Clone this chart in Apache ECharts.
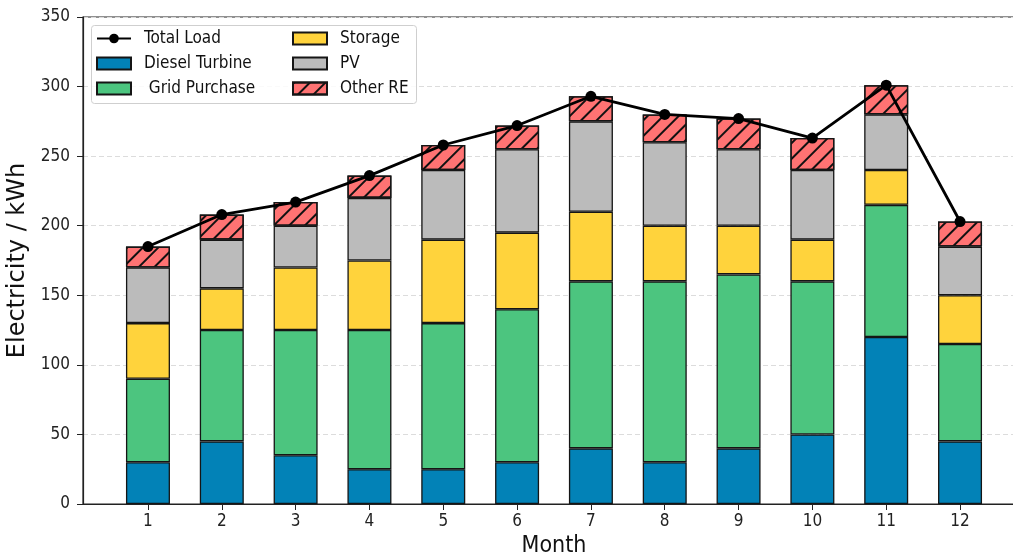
<!DOCTYPE html>
<html>
<head>
<meta charset="utf-8">
<script src="https://cdn.jsdelivr.net/npm/echarts@6/dist/echarts.min.js"></script>
<style>html,body{margin:0;padding:0;background:#fff}#c{width:1013px;height:556px}</style>
</head>
<body>
<div id="c"></div>
<script>
const months = [1,2,3,4,5,6,7,8,9,10,11,12];
const dieselTurbine = [30,45,35,25,25,30,40,30,40,50,120,45];
const gridPurchase  = [60,80,90,100,105,110,120,130,125,110,95,70];
const storage       = [40,30,45,50,60,55,50,40,35,30,25,35];
const pv            = [40,35,30,45,50,60,65,60,55,50,40,35];
const otherRE       = [15,18,17,16,18,17,18,20,22,23,21,18];
const totalLoad     = [185,208,217,236,258,272,293,280,277,263,301,203];
const yTicks = [0,50,100,150,200,250,300,350];

const FONT = '"DejaVu Sans Condensed", "DejaVu Sans", sans-serif';
const FONT_Y = '"DejaVu Sans", sans-serif';
const X_MIN = 0.12, X_MAX = 12.88;
const G_LEFT = 83, G_TOP = 17, G_W = 942, G_H = 487;
const unit = G_W / (X_MAX - X_MIN);
const barGridLeft = G_LEFT + (0.5 - X_MIN) * unit;
const barGridW = months.length * unit;

const chart = echarts.init(document.getElementById('c'), null, {renderer:'canvas'});
const bar = (name, data, color, decal) => ({
  name, type:'bar', stack:'s', data, barWidth: 44, xAxisIndex:1, yAxisIndex:1,
  itemStyle: Object.assign({color, borderColor:'#151515', borderWidth:1.3}, decal ? {decal} : {}),
  emphasis:{disabled:true}, z:2
});
const legendText = {fontSize:17, color:'#111', fontFamily:FONT, padding:[0,0,0,8]};

chart.setOption({
  animation:false,
  textStyle:{fontFamily:FONT},
  grid:[
    {left:G_LEFT, top:G_TOP, width:G_W, height:G_H, show:true, borderColor:'#222', borderWidth:1.2,
     backgroundColor:'transparent', outerBoundsMode:'none', containLabel:false},
    {left:barGridLeft, top:G_TOP, width:barGridW, height:G_H, outerBoundsMode:'none', containLabel:false}
  ],
  xAxis:[{
    type:'value', gridIndex:0, min:X_MIN, max:X_MAX,
    name:'Month', nameLocation:'middle', nameGap:30,
    nameTextStyle:{fontSize:23, color:'#111', fontFamily:FONT},
    axisLine:{show:true, lineStyle:{color:'#222', width:1.2}},
    axisTick:{show:true, customValues: months, length:6, lineStyle:{color:'#222'}},
    axisLabel:{customValues: months, fontSize:17, color:'#222', margin:9, fontFamily:FONT},
    splitLine:{show:false}
  },{
    type:'category', gridIndex:1, data: months, boundaryGap:true,
    axisLine:{show:false}, axisTick:{show:false}, axisLabel:{show:false}, splitLine:{show:false}
  }],
  yAxis:[{
    type:'value', gridIndex:0, min:0, max:350, interval:50,
    name:'Electricity / kWh', nameLocation:'middle', nameGap:46,
    nameTextStyle:{fontSize:24, color:'#111', fontFamily:FONT_Y},
    axisLine:{show:true, lineStyle:{color:'#222', width:1.2}},
    axisTick:{show:true, length:6, lineStyle:{color:'#222'}},
    axisLabel:{fontSize:17, color:'#222', margin:13, fontFamily:FONT,
      formatter: v => yTicks.includes(v) ? String(v) : ''},
    splitLine:{show:true, lineStyle:{color:'#dcdcdc', type:[5,3], width:1}}
  },{
    type:'value', gridIndex:1, min:0, max:350, interval:50,
    axisLine:{show:false}, axisTick:{show:false}, axisLabel:{show:false}, splitLine:{show:false}
  }],
  graphic:[{type:'rect', left:91, top:25, shape:{width:325, height:78, r:3},
    style:{fill:'rgba(255,255,255,0.85)', stroke:'#cfcfcf', lineWidth:1}, z:10}],
  legend:[
    {data:[{name:'Total Load'},{name:'Diesel Turbine', icon:'rect'},{name:' Grid Purchase', icon:'rect'}], orient:'vertical', left:91, top:25,
     itemWidth:34, itemHeight:12, itemGap:8, textStyle:legendText, z:11, selectedMode:false},
    {data:[{name:'Storage', icon:'rect'},{name:'PV', icon:'rect'},{name:'Other RE', icon:'rect'}], orient:'vertical', left:287, top:25,
     itemWidth:34, itemHeight:12, itemGap:8, textStyle:legendText, z:11, selectedMode:false}
  ],
  series:[
    bar('Diesel Turbine', dieselTurbine, '#0282b7'),
    bar(' Grid Purchase', gridPurchase, '#4cc57f'),
    bar('Storage', storage, '#ffd33c'),
    bar('PV', pv, '#bbbbbb'),
    bar('Other RE', otherRE, '#ff7373',
      {symbol:'rect', color:'#111', symbolSize:1, dashArrayX:[1,0], dashArrayY:[1.5,9], rotation:-Math.PI/4}),
    {name:'Total Load', type:'line', xAxisIndex:0, yAxisIndex:0, data: totalLoad.map((v,i)=>[months[i], v]),
     symbol:'circle', symbolSize:11,
     lineStyle:{color:'#000', width:2.8}, itemStyle:{color:'#000'}, z:5, emphasis:{disabled:true}}
  ]
});
</script>
</body>
</html>
